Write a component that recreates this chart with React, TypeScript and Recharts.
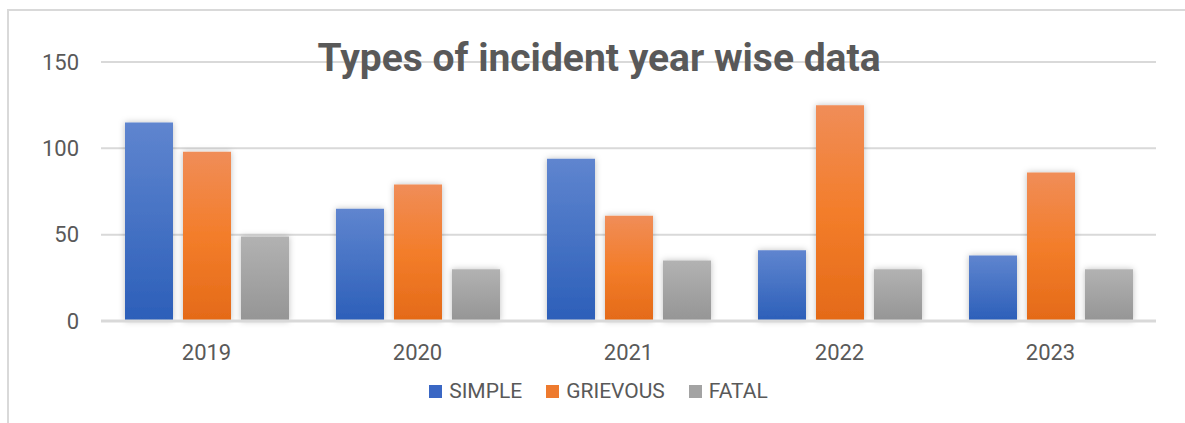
import React from 'react';
import { BarChart, Bar, XAxis, YAxis, CartesianGrid, Legend, Customized, Rectangle } from 'recharts';

const years = ['2019', '2020', '2021', '2022', '2023'];
const simple = [115, 65, 94, 41, 38];
const grievous = [98, 79, 61, 125, 86];
const fatal = [49, 30, 35, 30, 30];
const yTicks = [0, 50, 100, 150];

const data = years.map((year, i) => ({
  year,
  SIMPLE: simple[i],
  GRIEVOUS: grievous[i],
  FATAL: fatal[i],
}));

const FONT = '"Liberation Sans Narrow", Roboto, "Noto Sans", sans-serif';

const ShadowBar = (props: any) => <Rectangle {...props} filter="url(#barShadow)" />;

const Title = () => (
  <text
    x={599}
    y={71}
    textAnchor="middle"
    fill="#595959"
    fontFamily={FONT}
    fontWeight={700}
    fontSize={38}
    textLength={563}
    lengthAdjust="spacingAndGlyphs"
  >
    Types of incident year wise data
  </text>
);

const legendItems = [
  { name: 'SIMPLE', color: '#3a67c4' },
  { name: 'GRIEVOUS', color: '#ee7a2e' },
  { name: 'FATAL', color: '#a3a3a3' },
];

const LegendContent = () => (
  <div style={{ display: 'flex', justifyContent: 'center', gap: 24, fontFamily: FONT, fontSize: 21, color: '#595959' }}>
    {legendItems.map((it) => (
      <div key={it.name} style={{ display: 'flex', alignItems: 'center', gap: 7 }}>
        <div style={{ width: 13, height: 13, background: it.color }} />
        <span>{it.name}</span>
      </div>
    ))}
  </div>
);

const App: React.FC = () => {
  return (
    <div style={{ position: 'absolute', left: 0, top: 0, width: 1185, height: 423, background: '#fff' }}>
      <div
        style={{
          position: 'absolute',
          left: 7,
          top: 9,
          width: 1178,
          height: 414,
          borderTop: '2px solid #d9d9d9',
          borderLeft: '2px solid #d9d9d9',
        }}
      />
      <BarChart
        width={1185}
        height={423}
        data={data}
        margin={{ top: 62, right: 29, left: 41, bottom: -1 }}
        barSize={48}
        barGap={10}
        style={{ position: 'absolute', left: 0, top: 0 }}
      >
        <defs>
          <linearGradient id="gSimple" x1="0" y1="0" x2="0" y2="1">
            <stop offset="0%" stopColor="#5f85cf" />
            <stop offset="100%" stopColor="#2c5fb9" />
          </linearGradient>
          <linearGradient id="gGrievous" x1="0" y1="0" x2="0" y2="1">
            <stop offset="0%" stopColor="#f08d58" />
            <stop offset="50%" stopColor="#f37d2a" />
            <stop offset="100%" stopColor="#e46a18" />
          </linearGradient>
          <linearGradient id="gFatal" x1="0" y1="0" x2="0" y2="1">
            <stop offset="0%" stopColor="#b2b2b2" />
            <stop offset="100%" stopColor="#959595" />
          </linearGradient>
          <filter id="barShadow" x="-30%" y="-30%" width="160%" height="160%">
            <feDropShadow dx="0" dy="0" stdDeviation="3" floodColor="#000" floodOpacity="0.25" />
          </filter>
        </defs>
        <CartesianGrid vertical={false} stroke="#d9d9d9" strokeWidth={2} />
        <XAxis
          dataKey="year"
          axisLine={{ stroke: '#d9d9d9', strokeWidth: 3 }}
          tickLine={false}
          height={50}
          tick={{ fill: '#595959', fontSize: 22, fontFamily: FONT }}
          tickMargin={17}
        />
        <YAxis
          domain={[0, 150]}
          ticks={yTicks}
          axisLine={false}
          tickLine={false}
          width={60}
          tick={{ fill: '#595959', fontSize: 22, fontFamily: FONT }}
          tickMargin={16}
        />
        <Legend content={<LegendContent />} verticalAlign="bottom" height={53} wrapperStyle={{ top: 379, bottom: 'auto' }} />
        <Bar dataKey="SIMPLE" fill="url(#gSimple)" shape={ShadowBar} isAnimationActive={false} />
        <Bar dataKey="GRIEVOUS" fill="url(#gGrievous)" shape={ShadowBar} isAnimationActive={false} />
        <Bar dataKey="FATAL" fill="url(#gFatal)" shape={ShadowBar} isAnimationActive={false} />
        <Customized component={Title} />
      </BarChart>
    </div>
  );
};

export default App;
